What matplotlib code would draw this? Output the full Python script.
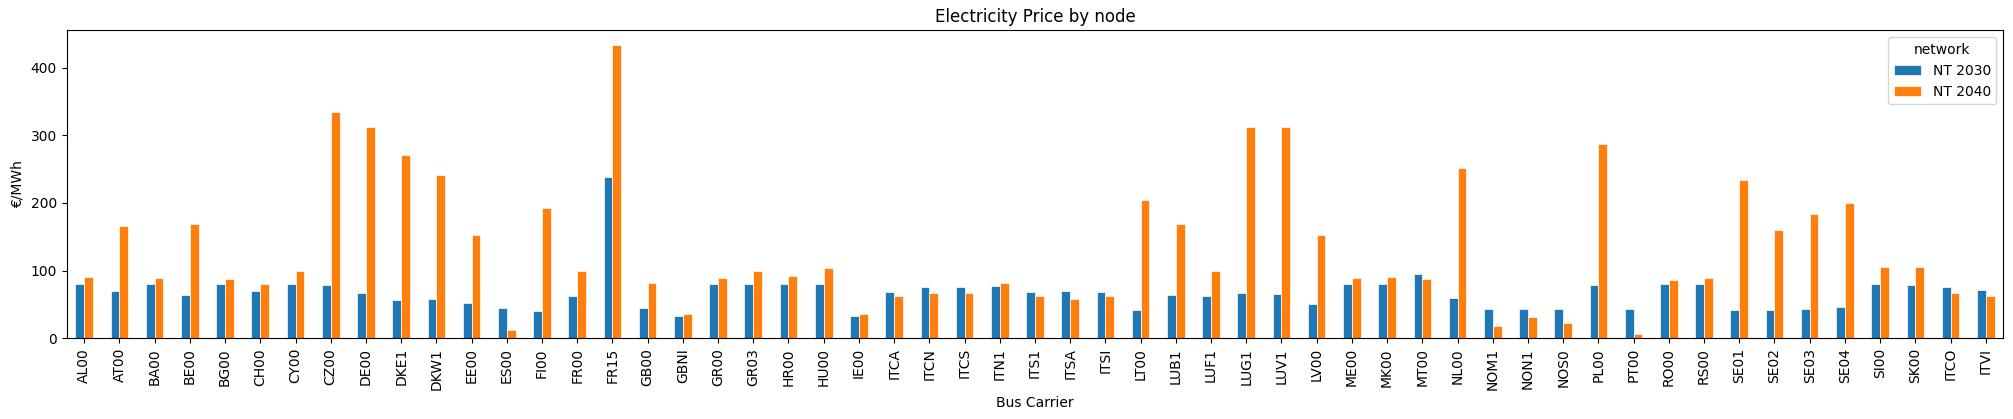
import matplotlib
matplotlib.use("Agg")
import matplotlib.pyplot as plt
import pandas as pd

nodes = ["AL00", "AT00", "BA00", "BE00", "BG00", "CH00", "CY00", "CZ00", "DE00", "DKE1",
         "DKW1", "EE00", "ES00", "FI00", "FR00", "FR15", "GB00", "GBNI", "GR00", "GR03",
         "HR00", "HU00", "IE00", "ITCA", "ITCN", "ITCS", "ITN1", "ITS1", "ITSA", "ITSI",
         "LT00", "LUB1", "LUF1", "LUG1", "LUV1", "LV00", "ME00", "MK00", "MT00", "NL00",
         "NOM1", "NON1", "NOS0", "PL00", "PT00", "RO00", "RS00", "SE01", "SE02", "SE03",
         "SE04", "SI00", "SK00", "ITCO", "ITVI"]

nt2030 = [80.3, 70, 80, 64, 80, 70, 80, 78.8, 67, 56.7,
          58, 52, 44.8, 40.4, 62.6, 238.4, 44.8, 33, 80, 80,
          80, 80, 33, 68.5, 75.9, 75.9, 77.3, 68.5, 70, 68.5,
          41.9, 64, 62.6, 67, 65.5, 50.7, 80, 80, 95, 59.6,
          43.3, 43.3, 43.3, 78.8, 43.3, 80, 80, 41.9, 41.9, 43.3,
          46.3, 80, 78.8, 75.9, 71.4]

nt2040 = [90.6, 166, 89, 169, 87.7, 80, 99.5, 334.5, 312, 271,
          241, 152.7, 12.3, 192.6, 99.5, 433.5, 81.8, 36, 89, 99.5,
          92, 104, 36, 62.6, 67, 67, 81.8, 62.6, 58, 62.6,
          204.4, 169, 99.5, 312, 312, 152.7, 89, 90.6, 87.7, 251.7,
          18.2, 31.5, 22.7, 287, 6.4, 86, 89, 234, 160, 183.7,
          200, 105.4, 105.4, 67, 62.6]

series_names = ["NT 2030", "NT 2040"]

df = pd.DataFrame({series_names[0]: nt2030, series_names[1]: nt2040}, index=nodes)
df.columns.name = "network"
df.index.name = "Bus Carrier"

fig, ax = plt.subplots(figsize=(20.13, 4.19), dpi=100)
df.plot(kind="bar", ax=ax, color=["#1f77b4", "#ff7f0e"], edgecolor="white", linewidth=0.5)
ax.set_title("Electricity Price by node")
ax.set_ylabel("€/MWh")
ax.set_xlabel("Bus Carrier")
ax.legend(title="network", loc="upper right")
fig.subplots_adjust(left=0.0331, right=0.9952, top=0.9277, bottom=0.1926)
fig.savefig("out.png", dpi=100)
